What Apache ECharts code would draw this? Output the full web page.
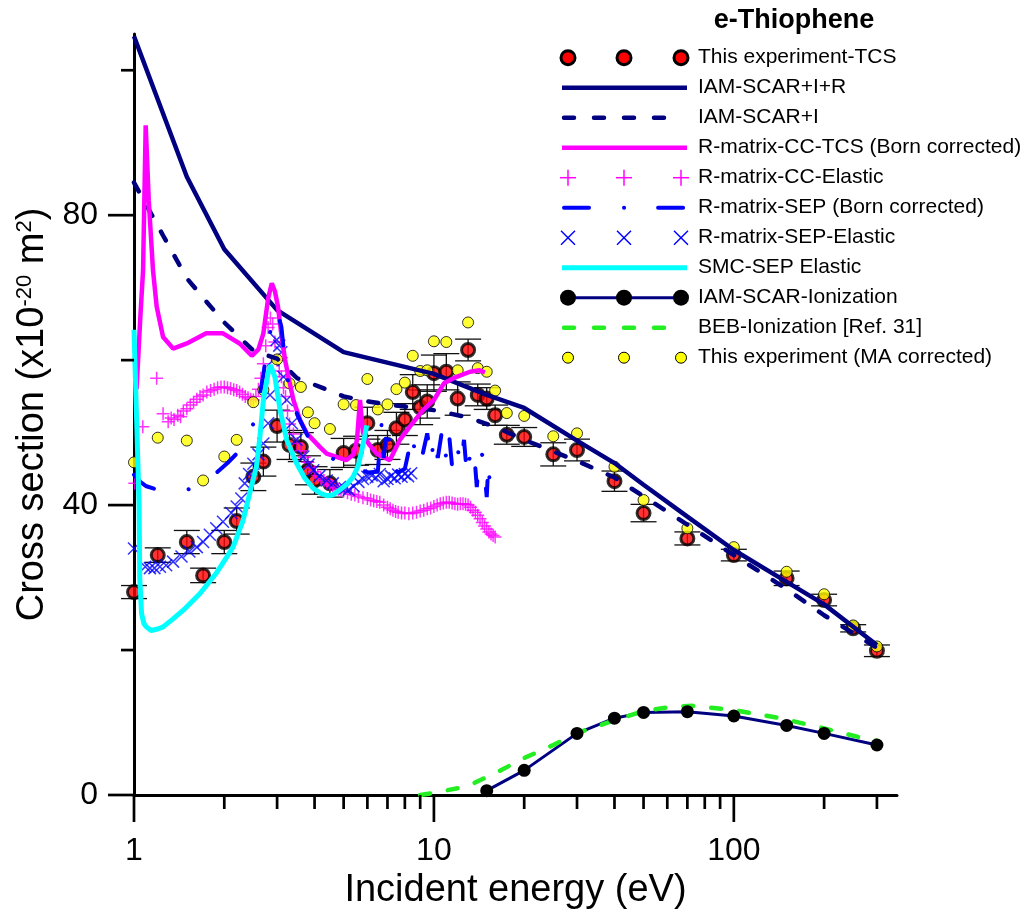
<!DOCTYPE html>
<html><head><meta charset="utf-8">
<script src="https://cdn.jsdelivr.net/npm/echarts@6/dist/echarts.min.js"></script>
<style>html,body{margin:0;padding:0;background:#fff}#c{width:1024px;height:912px}</style>
</head><body><div id="c"></div>
<script>
// ---------------- data ----------------
const tcsE   = [1,1.2,1.5,1.7,2.0,2.2,2.5,2.7,3.0,3.3,3.6,3.8,4.0,4.5,5.0,5.5,6.0,6.5,7.0,7.5,8.0,8.5,9.0,9.5,10,11,12,13,14,15,16,17.5,20,25,30,40,50,70,100,150,200,250,300];
const tcsY   = [28.0,33.1,34.9,30.3,34.9,37.8,43.9,46.0,50.9,48.3,48.0,44.8,43.4,43.0,47.2,47.5,51.3,47.6,48.3,50.6,51.8,55.6,53.5,54.3,58.2,58.4,54.7,61.4,55.2,54.7,52.4,49.7,49.4,47.0,47.6,43.3,38.9,35.4,33.1,29.9,26.9,23.0,19.9];
const tcsErr = [0.9,1.0,1.6,1.0,1.6,1.8,1.9,2.0,2.2,2.0,2.0,2.0,1.9,1.9,2.0,2.0,2.2,2.0,2.0,2.2,2.2,2.4,2.4,2.3,2.5,2.5,2.3,1.5,1.5,1.5,1.4,1.3,1.3,1.6,1.5,1.4,1.2,0.9,0.8,1.0,0.8,0.5,0.8];

const iamRE = [1,1.5,2,3,5,10,15,20,30,40,50,70,100,150,200,300];
const iamRY = [104.7,85.3,75.3,66.9,61.1,58.1,55.2,53.4,48.9,45.8,42.8,38.4,33.8,29.4,26.3,20.7];

const iamE = [1,1.25,1.5,1.75,2,2.5,3,3.5,4,5,6,7,8,10,13,16,20,30,40,50,70,100,150,200,300];
const iamY = [84.5,77.2,71.3,68.0,65.2,61.3,60.2,57.5,56.6,55.0,54.3,53.9,53.6,53.1,52.1,50.8,49.0,46.1,43.8,41.2,37.3,33.1,28.4,24.8,20.3];

const ccTcsE = [1.02,1.05,1.072,1.094,1.12,1.157,1.19,1.25,1.35,1.5,1.74,1.98,2.25,2.47,2.6,2.7,2.8,2.88,2.95,3.02,3.1,3.19,3.3,3.4,3.58,3.77,4.17,4.39,5.1,5.4,5.54,5.67,5.8,6.05,6.44,7.13,7.7,8.3,9.2,10,10.8,11.9,13.2,14.2,14.8];
const ccTcsY = [56,66,72.4,92.4,82,72.4,67.4,63.2,61.6,62.3,63.7,63.7,62.3,60.6,61.5,63.7,68.5,70.6,69.5,67.4,63.5,60.0,57.0,54.5,51.7,49.9,48.0,47.1,46.2,47.0,49.0,54.5,50.0,48.5,47.1,46.2,49.0,50.8,53.1,54.5,56.8,57.7,58.4,58.6,58.3];

const ccElE = [1.006,1.07,1.19,1.25,1.30,1.33,1.36,1.40,1.43,1.46,1.50,1.54,1.58,1.62,1.66,1.70,1.75,1.80,1.85,1.90,1.95,2.0,2.05,2.1,2.15,2.2,2.25,2.3,2.35,2.4,2.45,2.5,2.55,2.6,2.65,2.7,2.75,2.8,2.85,2.9,2.95,3.0,3.05,3.1,3.15,3.2,3.25,3.3,3.4,3.5,3.6,3.7,3.8,3.9,4.0,4.1,4.2,4.3,4.4,4.5,4.6,4.7,4.8,4.9,5.0,5.15,5.3,5.45,5.6,5.8,6.0,6.15,6.3,6.45,6.6,6.8,7.0,7.15,7.3,7.45,7.6,7.8,8.0,8.25,8.5,8.75,9.0,9.25,9.5,9.75,10,10.25,10.5,10.75,11,11.25,11.5,11.75,12,12.25,12.5,12.75,13,13.25,13.5,13.75,14,14.25,14.5,14.75,15,15.25,15.5,15.75,16];
const ccElY = [43.0,50.8,57.5,52.6,51.5,52.0,51.8,52.4,52.2,53.0,53.3,53.8,54.2,54.6,55.0,55.2,55.6,55.8,56.0,56.2,56.3,56.3,56.2,56.1,55.9,55.8,55.6,55.3,55.0,54.8,54.6,54.5,55.0,56.0,57.5,59.5,62.0,64.5,65.8,65.0,62.5,60.0,58.5,57.7,56.2,55.0,53.0,51.2,49.8,48.5,47.5,46.6,45.9,45.2,44.6,44.1,43.7,43.4,43.1,42.8,42.6,42.4,42.2,42.0,41.9,41.7,41.5,41.4,41.2,41.0,40.9,40.7,40.6,40.5,40.4,40.0,39.7,39.5,39.3,39.1,39.0,38.9,38.9,38.8,38.9,39.0,39.2,39.3,39.5,39.6,39.8,40.0,40.2,40.3,40.4,40.4,40.3,40.2,40.1,40.2,40.2,40.1,40.0,39.7,39.3,39.0,38.6,38.1,37.6,37.1,36.7,36.3,36.0,35.8,35.6];

const sepE = [1.0,1.05,1.1,1.2,1.35,1.53,1.7,1.9,2.05,2.2,2.35,2.5,2.6,2.7,2.8,2.9,2.99,3.1,3.2,3.3,3.5,3.8,4.28,4.8,5.2,5.6,6.0,6.5,6.7,6.8,7.0,7.2,7.6,8.0,8.5,8.7,9.1,9.5,9.8,10.0,10.3,10.6,10.9,11.2,11.5,11.9,12.3,12.6,12.9,13.3,13.6,13.9,14.2,14.6,15.0,15.2,15.4];
const sepY = [44.2,43.2,42.6,42.1,41.9,42.2,43.0,44.6,45.8,47.1,49.3,51.2,54.0,58.0,62.5,65.5,66.9,64.6,59.0,56.0,52.5,49.5,47.1,46.0,45.5,45.0,44.5,44.6,51.5,46.5,51.5,45.5,44.5,45.0,50.0,45.5,46.4,49.9,46.0,49.5,46.5,49.8,46.0,50.3,45.3,48.5,45.5,49.0,43.9,48.0,47.6,42.5,47.5,46.7,41.1,46.0,42.0];

const sepElE = [1.0,1.09,1.13,1.17,1.22,1.28,1.35,1.44,1.53,1.62,1.70,1.79,1.88,1.98,2.11,2.2,2.28,2.34,2.42,2.5,2.6,2.7,2.8,2.84,2.91,2.99,3.05,3.1,3.15,3.23,3.36,3.48,3.67,3.82,3.96,4.15,4.39,4.6,4.86,5.05,5.2,5.4,5.6,5.8,6.0,6.2,6.4,6.6,6.8,7.0,7.2,7.4,7.6,7.8,8.0,8.2,8.4];
const sepElY = [34.0,31.5,31.3,31.3,31.5,31.7,32.2,32.9,33.6,34.2,34.9,35.9,36.8,37.7,38.9,39.8,40.9,43.0,44.3,45.7,47.0,48.5,51.3,55.2,60.0,62.8,62.0,61.1,57.7,54.5,51.3,49.0,46.7,45.6,44.8,44.0,43.4,43.0,42.5,42.3,42.1,42.6,43.2,43.6,43.9,44.1,43.8,44.3,43.3,43.6,44.0,43.7,44.2,43.9,44.3,44.0,44.4];

const smcE = [1.0,1.02,1.04,1.045,1.06,1.08,1.1,1.14,1.2,1.25,1.35,1.46,1.66,1.88,2.0,2.14,2.31,2.43,2.56,2.63,2.7,2.8,2.85,2.95,3.07,3.23,3.48,3.7,3.96,4.2,4.39,4.6,4.86,5.1,5.38,5.6,5.75,5.9,5.97];
const smcY = [64.2,52.0,40.0,30.0,25.0,23.6,23.2,22.7,22.9,23.2,24.3,25.5,27.8,30.6,32.3,34.2,37.9,41.6,45.3,49.5,54.5,58.2,59.3,57.7,53.1,49.0,45.8,43.8,42.3,41.6,41.3,41.4,42.1,42.8,43.9,45.5,47.6,49.8,51.0];

const ionE = [15,20,30,40,50,70,100,150,200,300];
const ionY = [0.6,3.4,8.5,10.6,11.4,11.5,10.9,9.6,8.5,6.9];

const bebE = [9,10,12.9,16,20,25,30.8,40,50,63,73,100,143,200,272,300];
const bebY = [0.0,0.3,1.2,3.0,5.1,6.9,8.7,10.3,11.6,12.2,12.3,11.7,10.6,9.2,7.8,7.5];

const maE = [1,1.2,1.5,1.7,2.0,2.2,2.5,2.7,3.0,3.3,3.6,3.8,4.0,4.5,5.0,5.5,6.0,6.5,7.0,7.5,8.0,8.5,9.0,9.5,10,11,12,13,14,15,16,17.5,20,25,30,40,50,70,100,150,200,250,300];
const maY = [45.9,49.3,48.9,43.4,46.7,49.0,54.2,55.9,60.1,56.8,56.3,52.8,51.3,50.5,53.9,53.8,57.4,53.2,53.9,56.0,56.9,60.6,58.5,58.6,62.6,62.5,58.6,65.2,58.9,58.4,55.8,52.7,52.3,49.5,49.9,45.3,40.7,36.8,34.2,30.8,27.7,23.4,20.5];

const xMajorTicks = [1,10,100];
const xMinorTicks = [2,3,4,5,6,7,8,9,20,30,40,50,60,70,80,90,200,300];
const yMajorTicks = [0,40,80];
const yMinorTicks = [20,60,100];

const legendNames = ['This experiment-TCS','IAM-SCAR+I+R','IAM-SCAR+I','R-matrix-CC-TCS (Born corrected)','R-matrix-CC-Elastic','R-matrix-SEP (Born corrected)','R-matrix-SEP-Elastic','SMC-SEP Elastic','IAM-SCAR-Ionization','BEB-Ionization [Ref. 31]','This experiment (MA corrected)'];
const titleText = 'e-Thiophene';

// ---------------- helpers ----------------
const zip = (a, b) => a.map((v, i) => [v, b[i]]);
const FONT = "'Liberation Sans', Arial, Helvetica, sans-serif";
const NAVY = '#000080', MAG = '#FF00FF', BLUE = '#0000FF', CYAN = '#00FFFF', GREEN = '#22EE22';
const PLUS = 'path://M5,0 L5,10 M0,5 L10,5';
const CROSS = 'path://M0,0 L10,10 M10,0 L0,10';

const chart = echarts.init(document.getElementById('c'), null, {renderer: 'canvas'});

const tickData = [];
xMajorTicks.forEach(v => tickData.push([v, 0, 27, 0]));
xMinorTicks.forEach(v => tickData.push([v, 0, 14, 0]));
const yTickData = [];
yMajorTicks.forEach(v => yTickData.push([1, v, 26, 1]));
yMinorTicks.forEach(v => yTickData.push([1, v, 13, 1]));

// legend graphics
const LX = [568, 624, 681];
const rowY = i => 57.7 + 30 * i;
const g = [];
g.push({type: 'text', x: 794, y: 21, style: {text: titleText, font: 'bold 27px ' + FONT, fill: '#000', align: 'center', verticalAlign: 'middle'}});
function circ(x, y, r, fill, stroke, lw) { return {type: 'circle', shape: {cx: x, cy: y, r: r}, style: {fill: fill, stroke: stroke, lineWidth: lw}}; }
function seg(x1, y1, x2, y2, stroke, lw, dash) { return {type: 'line', shape: {x1, y1, x2, y2}, style: {stroke, lineWidth: lw, lineDash: dash || null, lineCap: dash ? 'round' : 'butt'}}; }
legendNames.forEach((name, i) => {
  const y = rowY(i);
  if (i === 0) LX.forEach(x => g.push(circ(x, y, 7, '#FF0000', '#000', 3)));
  if (i === 1) g.push(seg(562, y, 687, y, NAVY, 4.5));
  if (i === 2) g.push(seg(564, y, 684, y, NAVY, 4.5, [10, 20]));
  if (i === 3) g.push(seg(562, y, 687, y, MAG, 4.5));
  if (i === 4) LX.forEach(x => { g.push(seg(x - 8, y, x + 8, y, MAG, 1.5)); g.push(seg(x, y - 8, x, y + 8, MAG, 1.5)); });
  if (i === 5) g.push(seg(564, y, 685, y, BLUE, 4, [25, 35, 0.1, 34]));
  if (i === 6) LX.forEach(x => { g.push(seg(x - 7, y - 7, x + 7, y + 7, BLUE, 1.5)); g.push(seg(x - 7, y + 7, x + 7, y - 7, BLUE, 1.5)); });
  if (i === 7) g.push(seg(562, y, 687, y, CYAN, 5));
  if (i === 8) { g.push(seg(568, y, 681, y, NAVY, 3)); LX.forEach(x => g.push(circ(x, y, 8, '#000', '#000', 0))); }
  if (i === 9) g.push(seg(564, y, 684, y, GREEN, 4.5, [10, 20]));
  if (i === 10) LX.forEach(x => g.push(circ(x, y, 5.5, '#FFFF00', '#000', 1)));
  g.push({type: 'text', x: 698, y: y, style: {text: name, font: '21px ' + FONT, fill: '#000', verticalAlign: 'middle'}});
});

const option = {
  animation: false,
  backgroundColor: '#fff',
  grid: {left: 134, right: 127, top: 34, bottom: 117, containLabel: false, outerBoundsMode: 'none'},
  xAxis: {
    type: 'log', logBase: 10, min: 1, max: 350,
    name: 'Incident energy (eV)', nameLocation: 'middle', nameGap: 60,
    nameTextStyle: {fontFamily: FONT, fontSize: 38, color: '#000'},
    axisLine: {lineStyle: {color: '#000', width: 3}},
    axisTick: {show: false}, splitLine: {show: false}, minorTick: {show: false},
    axisLabel: {fontFamily: FONT, fontSize: 32, color: '#000', margin: 40,
      formatter: v => { const r = Math.round(v); return (xMajorTicks.indexOf(r) >= 0 && Math.abs(v - r) < 1e-6) ? String(r) : ''; }}
  },
  yAxis: {
    type: 'value', min: 0, max: 105, interval: 20,
    name: 'Cross section (x10{sup|-20} m{sup|2})', nameLocation: 'middle', nameGap: 74,
    nameTextStyle: {fontFamily: FONT, fontSize: 38, color: '#000',
      rich: {sup: {fontFamily: FONT, fontSize: 22, color: '#000', verticalAlign: 'top', padding: [0, 0, 14, 0]}}},
    axisLine: {show: true, lineStyle: {color: '#000', width: 3}},
    axisTick: {show: false}, splitLine: {show: false},
    axisLabel: {fontFamily: FONT, fontSize: 32, color: '#000', margin: 36,
      formatter: v => (yMajorTicks.indexOf(v) >= 0 ? String(v) : '')}
  },
  graphic: g,
  series: [
    {type: 'custom', name: 'xticks', silent: true, clip: false, data: tickData, z: 5,
     renderItem: (p, api) => { const c = api.coord([api.value(0), 0]); const L = api.value(2);
       return {type: 'line', shape: {x1: c[0], y1: c[1], x2: c[0], y2: c[1] + L}, style: {stroke: '#000', lineWidth: 2.7}}; }},
    {type: 'custom', name: 'yticks', silent: true, clip: false, data: yTickData, z: 5,
     renderItem: (p, api) => { const c = api.coord([1, api.value(1)]); const L = api.value(2);
       return {type: 'line', shape: {x1: c[0], y1: c[1], x2: c[0] - L, y2: c[1]}, style: {stroke: '#000', lineWidth: 2.7}}; }},
    {type: 'scatter', name: legendNames[0], data: zip(tcsE, tcsY), symbol: 'circle', symbolSize: 13,
     itemStyle: {color: '#FF0000', borderColor: '#000', borderWidth: 3}},
    {type: 'custom', name: 'errors', silent: true, data: tcsE.map((e, i) => [e, tcsY[i], tcsErr[i]]),
     renderItem: (p, api) => {
       const e = api.value(0), y = api.value(1), d = api.value(2);
       const top = api.coord([e, y + d]), bot = api.coord([e, y - d]);
       const st = {stroke: '#111', lineWidth: 1.3};
       return {type: 'group', children: [
         {type: 'line', shape: {x1: top[0], y1: top[1], x2: bot[0], y2: bot[1]}, style: st},
         {type: 'line', shape: {x1: top[0] - 13, y1: top[1], x2: top[0] + 13, y2: top[1]}, style: st},
         {type: 'line', shape: {x1: bot[0] - 13, y1: bot[1], x2: bot[0] + 13, y2: bot[1]}, style: st}]};
     }},
    {type: 'line', name: legendNames[1], data: zip(iamRE, iamRY), showSymbol: false, symbol: 'none',
     lineStyle: {color: NAVY, width: 4.5}},
    {type: 'line', name: legendNames[2], data: zip(iamE, iamY), showSymbol: false, symbol: 'none',
     lineStyle: {color: NAVY, width: 4.5, type: [10, 18], cap: 'round'}},
    {type: 'line', name: legendNames[3], data: zip(ccTcsE, ccTcsY), showSymbol: false, symbol: 'none',
     lineStyle: {color: MAG, width: 4.5}},
    {type: 'scatter', name: legendNames[4], data: zip(ccElE, ccElY), symbol: PLUS, symbolSize: 13,
     itemStyle: {color: 'rgba(0,0,0,0)', borderColor: MAG, borderWidth: 1.5}},
    {type: 'line', name: legendNames[5], data: zip(sepE, sepY), showSymbol: false, symbol: 'none',
     lineStyle: {color: BLUE, width: 4, type: [25, 35, 0.1, 34], cap: 'round'}},
    {type: 'scatter', name: legendNames[6], data: zip(sepElE, sepElY), symbol: CROSS, symbolSize: 12,
     itemStyle: {color: 'rgba(0,0,0,0)', borderColor: BLUE, borderWidth: 1.5}},
    {type: 'line', name: legendNames[7], data: zip(smcE, smcY), showSymbol: false, symbol: 'none',
     lineStyle: {color: CYAN, width: 5}},
    {type: 'line', name: legendNames[8], data: zip(ionE, ionY), symbol: 'circle', symbolSize: 13, showSymbol: true,
     itemStyle: {color: '#000'}, lineStyle: {color: NAVY, width: 3}},
    {type: 'line', name: legendNames[9], data: zip(bebE, bebY), showSymbol: false, symbol: 'none',
     lineStyle: {color: GREEN, width: 4.5, type: [10, 18], cap: 'round'}},
    {type: 'scatter', name: legendNames[10], data: zip(maE, maY), symbol: 'circle', symbolSize: 11,
     itemStyle: {color: '#FFFF00', borderColor: '#000', borderWidth: 1}}
  ]
};
chart.setOption(option);
</script></body></html>
